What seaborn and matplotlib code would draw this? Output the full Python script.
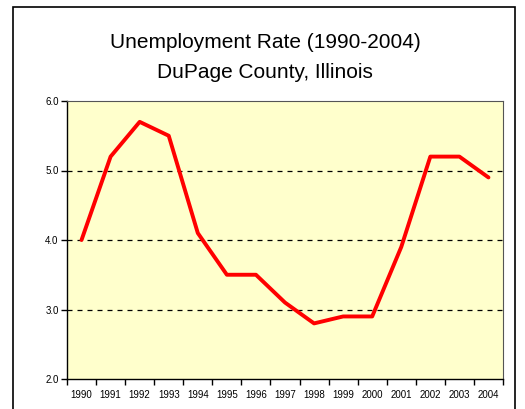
import numpy as np
import pandas as pd
import seaborn as sns
import matplotlib.pyplot as plt
from matplotlib.patches import Rectangle

# Data
years = [1990, 1991, 1992, 1993, 1994, 1995, 1996, 1997, 1998, 1999, 2000, 2001, 2002, 2003, 2004]
rates = [4.0, 5.2, 5.7, 5.5, 4.1, 3.5, 3.5, 3.1, 2.8, 2.9, 2.9, 3.9, 5.2, 5.2, 4.9]
y_ticks = [2.0, 3.0, 4.0, 5.0, 6.0]

df = pd.DataFrame({'year': years, 'rate': rates})

sns.set_style("white")
plt.rcParams['font.family'] = ['Liberation Sans', 'DejaVu Sans']
plt.rcParams['text.color'] = 'black'
plt.rcParams['xtick.color'] = 'black'
plt.rcParams['ytick.color'] = 'black'

fig = plt.figure(figsize=(5.25, 4.09), dpi=100)
fig.patch.set_facecolor('white')

# outer chart border
fig.patches.append(Rectangle((13/525, -0.1), (515-13)/525, 1.1 - 7/409,
                             transform=fig.transFigure, fill=False,
                             edgecolor='black', linewidth=1.2, zorder=0))

ax = fig.add_axes([67/525, 1 - 379/409, (503-67)/525, (379-101)/409])
ax.set_facecolor('#FFFFCC')

sns.lineplot(data=df, x='year', y='rate', color='#FF0000', linewidth=2.8, ax=ax)

ax.set_xlim(1989.5, 2004.5)
ax.set_ylim(2.0, 6.0)
ax.set_yticks(y_ticks)
ax.set_yticklabels([f"{v:.1f}" for v in y_ticks], fontsize=7)
ax.set_xticks(years)
ax.set_xticklabels([str(y) for y in years], fontsize=7)
ax.set_xticks(np.arange(1989.5, 2005, 1.0), minor=True)
ax.tick_params(axis='x', which='major', bottom=True, length=0, pad=8)
ax.tick_params(axis='x', which='minor', bottom=True, length=4, width=1, color='black', direction='out')
ax.tick_params(axis='y', left=True, length=4, width=1, color='black', direction='out', pad=2)

for v in [3.0, 4.0, 5.0]:
    ax.axhline(v, color='black', linestyle=(0, (4, 4)), linewidth=0.9, zorder=1)

for side in ['left', 'bottom']:
    ax.spines[side].set_color('black')
    ax.spines[side].set_linewidth(1.0)
for side in ['top', 'right']:
    ax.spines[side].set_color('#555555')
    ax.spines[side].set_linewidth(0.8)

ax.set_xlabel('')
ax.set_ylabel('')

fig.text(265/525, 1 - 43/409, 'Unemployment Rate (1990-2004)', ha='center', va='center', fontsize=15)
fig.text(265/525, 1 - 72/409, 'DuPage County, Illinois', ha='center', va='center', fontsize=15)

fig.savefig('out.png', dpi=100)
